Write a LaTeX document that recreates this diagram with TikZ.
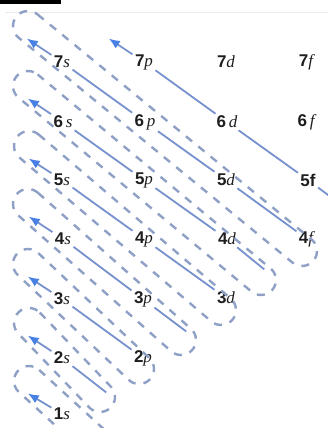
\documentclass[tikz,border=0pt]{standalone}
\usepackage{fontspec}
\setmainfont{Liberation Serif}
\setsansfont{Liberation Sans}
\usetikzlibrary{arrows.meta,calc}
\definecolor{solidc}{RGB}{118,145,205}
\definecolor{dashc}{RGB}{142,160,198}
\definecolor{headc}{RGB}{72,128,228}
\definecolor{txtc}{RGB}{30,30,30}
\newcommand{\orb}[2]{{\sffamily\bfseries #1}\textit{#2}}
\newcommand{\orbsp}[2]{{\sffamily\bfseries #1}\,\textit{#2}}
\newcommand{\capsule}[2]{%
  \draw[capline] let \p1=($(#2)-(#1)$), \n1={atan2(-\y1,\x1)} in
    ($(#1)+(\n1-90:15)$) -- ($(#2)+(\n1-90:15)$)
    arc[start angle=\n1-90, delta angle=180, radius=15]
    -- ($(#1)+(\n1+90:15)$)
    arc[start angle=\n1+90, delta angle=180, radius=15] -- cycle;}
\begin{document}
\begin{tikzpicture}[x=1pt,y=-1pt,
  lbl/.style={font=\fontsize{17}{17}\selectfont, text=txtc, inner sep=1.5pt},
  link/.style={draw=solidc, line width=1.8pt, shorten <=1pt, shorten >=1pt},
  arr/.style={link, -{Latex[length=11pt,width=9pt,color=headc]}},
  capline/.style={draw=dashc, line width=2.4pt, dash pattern=on 8pt off 8pt}]
\useasboundingbox (0,0) rectangle (328,428);
\clip (0,0) rectangle (328,428);
\fill[black] (0,0) rectangle (61,4);
\draw[black!8, line width=0.6pt] (5,12) -- (328,12);
% labels
\node[lbl] (s7) at (62,62) {\orb{7}{s}};
\node[lbl] (p7) at (144,62) {\orb{7}{p}};
\node[lbl] (d7) at (226,62) {\orb{7}{d}};
\node[lbl] (f7) at (307,62) {\orb{7}{f}};
\node[lbl] (s6) at (63,122) {\orbsp{6}{s}};
\node[lbl] (p6) at (145,122) {\orbsp{6}{p}};
\node[lbl] (d6) at (227,122) {\orbsp{6}{d}};
\node[lbl] (f6) at (307,122) {\orbsp{6}{f}};
\node[lbl] (s5) at (62,180) {\orb{5}{s}};
\node[lbl] (p5) at (144,180) {\orb{5}{p}};
\node[lbl] (d5) at (226,180) {\orb{5}{d}};
\node[lbl] (f5) at (308,180) {\sffamily\bfseries 5f};
\node[lbl] (s4) at (63,239) {\orb{4}{s}};
\node[lbl] (p4) at (144,239) {\orb{4}{p}};
\node[lbl] (d4) at (227,239) {\orb{4}{d}};
\node[lbl] (f4) at (307,239) {\orb{4}{f}};
\node[lbl] (s3) at (62,299) {\orb{3}{s}};
\node[lbl] (p3) at (143,299) {\orb{3}{p}};
\node[lbl] (d3) at (226,298) {\orb{3}{d}};
\node[lbl] (s2) at (62,358) {\orb{2}{s}};
\node[lbl] (p2) at (143,358) {\orb{2}{p}};
\node[lbl] (s1) at (62,414) {\orb{1}{s}};
% arrow tips
\coordinate (t7) at (26,38);
\coordinate (tp7) at (108,38);
\coordinate (t6) at (27,98);
\coordinate (t5) at (28,158);
\coordinate (t4) at (28,216);
\coordinate (t3) at (27,276);
\coordinate (t2) at (27,335);
\coordinate (t1) at (27,393);
% stub ends
\coordinate (st2) at (107,393);
\coordinate (st4) at (187,332);
\coordinate (st6) at (265,270);
\coordinate (st8) at (340,204);
% capsule ends
\coordinate (L7) at (28,26);   \coordinate (R7) at (302,251);
\coordinate (L6) at (28,86);   \coordinate (R6) at (261,280);
\coordinate (L5) at (29,146);  \coordinate (R5) at (221,310);
\coordinate (L4) at (28,204);  \coordinate (R4) at (181,340);
\coordinate (L3) at (28,264);  \coordinate (R3) at (139,369);
\coordinate (L2) at (29,323);  \coordinate (R2) at (100,397);
\coordinate (L1) at (29,381);  \coordinate (R1) at (100,446);
% capsules
\capsule{L7}{R7}
\capsule{L6}{R6}
\capsule{L5}{R5}
\capsule{L4}{R4}
\capsule{L3}{R3}
\capsule{L2}{R2}
\capsule{L1}{R1}
% diagonal lines
\draw[link] (p7) -- (d6);
\draw[link] (d6) -- (f5);
\draw[link] (f5) -- (st8);
\draw[link] (s7) -- (p6);
\draw[link] (p6) -- (d5);
\draw[link] (d5) -- (f4);
\draw[link] (s6) -- (p5);
\draw[link] (p5) -- (d4);
\draw[link] (d4) -- (st6);
\draw[link] (s5) -- (p4);
\draw[link] (p4) -- (d3);
\draw[link] (s4) -- (p3);
\draw[link] (p3) -- (st4);
\draw[link] (s3) -- (p2);
\draw[link] (s2) -- (st2);
% arrows
\draw[arr] (s7) -- (t7);
\draw[arr] (p7) -- (tp7);
\draw[arr] (s6) -- (t6);
\draw[arr] (s5) -- (t5);
\draw[arr] (s4) -- (t4);
\draw[arr] (s3) -- (t3);
\draw[arr] (s2) -- (t2);
\draw[arr] (s1) -- (t1);
\end{tikzpicture}
\end{document}
